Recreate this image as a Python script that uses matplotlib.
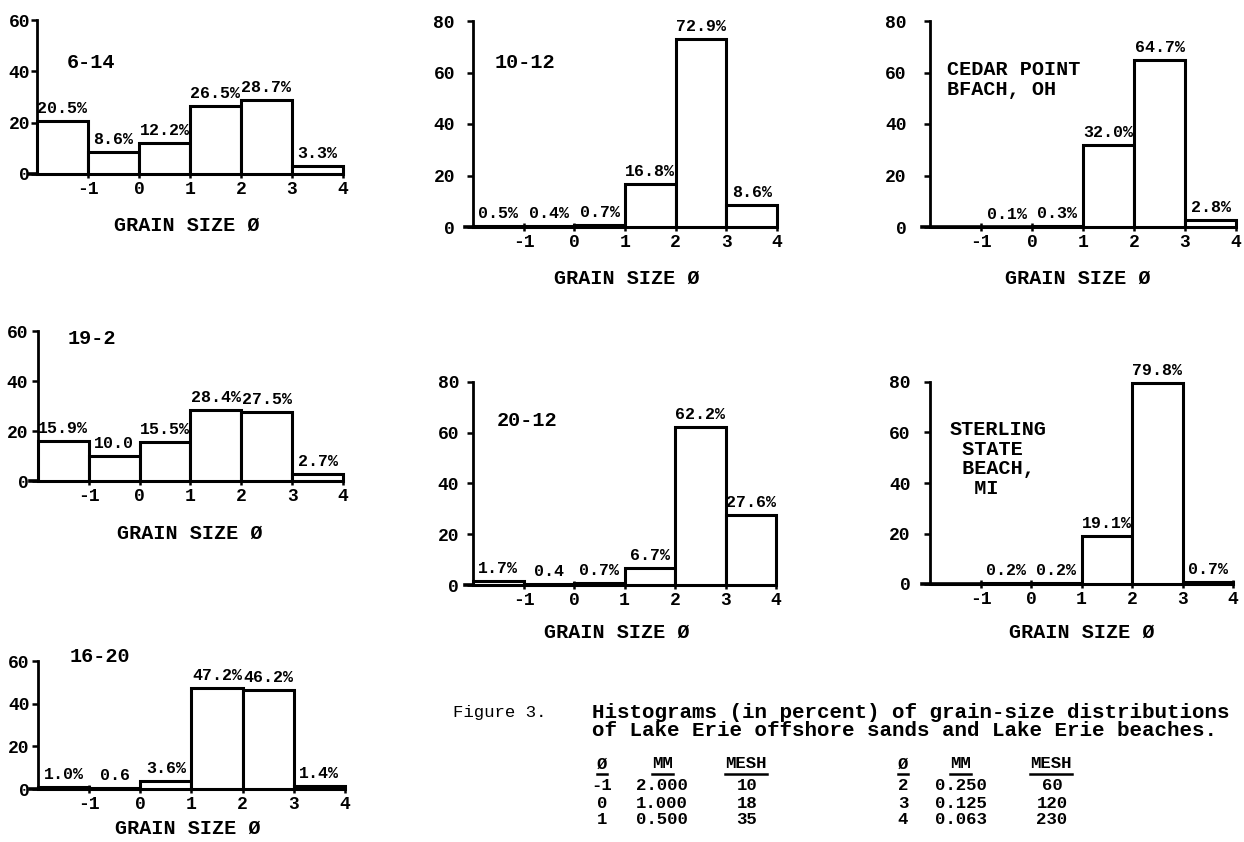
import matplotlib
matplotlib.use("Agg")
import matplotlib.pyplot as plt
from matplotlib.lines import Line2D

plt.rcParams['font.family'] = ['Liberation Mono', 'DejaVu Sans Mono']
plt.rcParams['font.weight'] = 'bold'

W, H = 1244, 842

# ---------------- data ----------------
bin_edges = [-2, -1, 0, 1, 2, 3]          # left edges of the phi classes
x_ticks = [-1, 0, 1, 2, 3, 4]

names = ["6-14", "10-12", "CEDAR POINT\nBFACH, OH",
         "19-2", "20-12", "STERLING\n STATE\n BEACH,\n  MI", "16-20"]

v_6_14 = [20.5, 8.6, 12.2, 26.5, 28.7, 3.3]
l_6_14 = ["20.5%", "8.6%", "12.2%", "26.5%", "28.7%", "3.3%"]

v_10_12 = [0.5, 0.4, 0.7, 16.8, 72.9, 8.6]
l_10_12 = ["0.5%", "0.4%", "0.7%", "16.8%", "72.9%", "8.6%"]

v_cedar = [0.0, 0.1, 0.3, 32.0, 64.7, 2.8]
l_cedar = ["", "0.1%", "0.3%", "32.0%", "64.7%", "2.8%"]

v_19_2 = [15.9, 10.0, 15.5, 28.4, 27.5, 2.7]
l_19_2 = ["15.9%", "10.0", "15.5%", "28.4%", "27.5%", "2.7%"]

v_20_12 = [1.7, 0.4, 0.7, 6.7, 62.2, 27.6]
l_20_12 = ["1.7%", "0.4", "0.7%", "6.7%", "62.2%", "27.6%"]

v_sterling = [0.0, 0.2, 0.2, 19.1, 79.8, 0.7]
l_sterling = ["", "0.2%", "0.2%", "19.1%", "79.8%", "0.7%"]

v_16_20 = [1.0, 0.6, 3.6, 47.2, 46.2, 1.4]
l_16_20 = ["1.0%", "0.6", "3.6%", "47.2%", "46.2%", "1.4%"]

y_max = [60, 80, 80, 60, 80, 80, 60]

caption_1 = "Histograms (in percent) of grain-size distributions"
caption_2 = "of Lake Erie offshore sands and Lake Erie beaches."

tab_phi = ["-1", "0", "1", "2", "3", "4"]
tab_mm = ["2.000", "1.000", "0.500", "0.250", "0.125", "0.063"]
tab_mesh = ["10", "18", "35", "60", "120", "230"]

# ---------------- layout (pixels) ----------------
# (x at phi=-2, x at phi=4, y at ymax, y at 0, ytick pad, xlabel centre x, xlabel offset)
geo = [
    (37, 343, 20, 174, 1, 187, 51),
    (473, 777, 21, 227, 9, 627, 51),
    (930, 1236, 21, 227, 13, 1078, 51),
    (38, 343, 331, 481, 3, 190, 52),
    (473, 776, 382, 585, 6, 617, 47),
    (930, 1233, 382, 584, 10, 1082, 48),
    (38, 345, 661, 789, 2, 188, 39),
]
title_pos = [(67, 63), (495, 62), (947, 60), (68, 338), (497, 420), (950, 420), (70, 656)]

fig = plt.figure(figsize=(W / 100, H / 100), dpi=100)
fig.patch.set_facecolor('white')


def ftext(px, py, s, **kw):
    return fig.text(px / W, 1 - py / H, s, **kw)


panels = [(v_6_14, l_6_14), (v_10_12, l_10_12), (v_cedar, l_cedar),
          (v_19_2, l_19_2), (v_20_12, l_20_12), (v_sterling, l_sterling),
          (v_16_20, l_16_20)]

for i, ((vals, labs), g) in enumerate(zip(panels, geo)):
    xm2, x4, ytop, y0, pad, xlc, xlo = g
    unit = (x4 - xm2) / 6.0
    xl = -2.15
    left_px = xm2 + (xl + 2) * unit
    ax = fig.add_axes([left_px / W, 1 - y0 / H, (x4 - left_px) / W, (y0 - ytop) / H])
    ax.set_xlim(xl, 4)
    ax.set_ylim(0, y_max[i])
    ax.patch.set_alpha(0)
    for s in ('top', 'right'):
        ax.spines[s].set_visible(False)
    ax.spines['left'].set_position(('data', -2))
    ax.spines['left'].set_linewidth(2.0)
    ax.spines['bottom'].set_linewidth(2.6)
    ax.set_xticks(x_ticks)
    ax.set_xticklabels([str(t) for t in x_ticks])
    ax.set_yticks(list(range(0, y_max[i] + 1, 20)))
    ax.tick_params(axis='x', direction='inout', length=6, width=1.8, labelsize=13, pad=2)
    ax.tick_params(axis='y', direction='out', length=4, width=1.8, labelsize=13, pad=pad)
    for t in ax.get_xticklabels() + ax.get_yticklabels():
        t.set_fontweight('bold')

    ax.bar(bin_edges, vals, width=1.0, align='edge', facecolor='white',
           edgecolor='black', linewidth=2.2, clip_on=False, zorder=3)
    for xe, v, lab in zip(bin_edges, vals, labs):
        if lab:
            ax.annotate(lab, (xe + 0.5, v), xytext=(0, 9), textcoords='offset points',
                        ha='center', va='center', fontsize=12, fontweight='bold',
                        annotation_clip=False)

    ax.set_xlabel("GRAIN SIZE Ø", fontsize=14.5, fontweight='bold')
    ax.xaxis.set_label_coords((xlc - left_px) / (x4 - left_px), -xlo / (y0 - ytop))
    ax.xaxis.label.set_va('center')

    tx, ty = title_pos[i]
    ftext(tx, ty, names[i], fontsize=14.5, fontweight='bold', ha='left', va='top'
          if '\n' in names[i] else 'center', linespacing=1.05)

# caption
ftext(453, 712, "Figure 3.", fontsize=12.5, fontweight='normal', va='center', ha='left')
ftext(592, 712, caption_1, fontsize=15, fontweight='bold', va='center', ha='left')
ftext(592, 730, caption_2, fontsize=15, fontweight='bold', va='center', ha='left')

# table
hdr_y = 764
row_y = [786, 803, 820]
groups = [
    dict(phi_c=602, mm_l=636, mesh_c=747, h_phi=602, h_mm=652, h_mesh=725),
    dict(phi_c=903, mm_l=935, mesh_c=1052, h_phi=903, h_mm=950, h_mesh=1030),
]
fig.canvas.draw()
renderer = fig.canvas.get_renderer()
for gi, gd in enumerate(groups):
    hdrs = [ftext(gd['h_phi'], hdr_y, "Ø", fontsize=12.5, ha='center', va='center'),
            ftext(gd['h_mm'], hdr_y, "MM", fontsize=12.5, ha='left', va='center'),
            ftext(gd['h_mesh'], hdr_y, "MESH", fontsize=12.5, ha='left', va='center')]
    for t in hdrs:
        bb = t.get_window_extent(renderer)
        yline = bb.y0 - 2
        fig.add_artist(Line2D([bb.x0 / W, bb.x1 / W], [yline / H, yline / H],
                              color='black', lw=1.8, transform=fig.transFigure))
    for r in range(3):
        k = gi * 3 + r
        ftext(gd['phi_c'], row_y[r], tab_phi[k], fontsize=12.5, ha='center', va='center')
        ftext(gd['mm_l'], row_y[r], tab_mm[k], fontsize=12.5, ha='left', va='center')
        ftext(gd['mesh_c'], row_y[r], tab_mesh[k], fontsize=12.5, ha='center', va='center')

fig.savefig("out.png", dpi=100, facecolor='white')
